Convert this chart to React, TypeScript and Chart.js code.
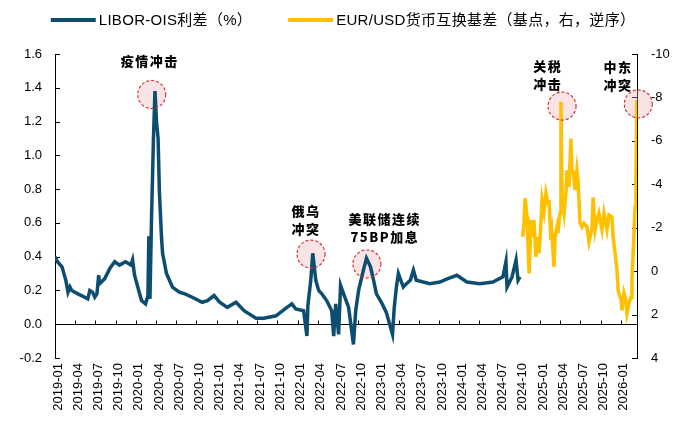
import React, { useEffect, useRef } from "react";
import { Chart, registerables } from "chart.js";

Chart.register(...registerables);

// ---------------- data ----------------
const xTickLabels = [
  "2019-01", "2019-04", "2019-07", "2019-10",
  "2020-01", "2020-04", "2020-07", "2020-10",
  "2021-01", "2021-04", "2021-07", "2021-10",
  "2022-01", "2022-04", "2022-07", "2022-10",
  "2023-01", "2023-04", "2023-07", "2023-10",
  "2024-01", "2024-04", "2024-07", "2024-10",
  "2025-01", "2025-04", "2025-07", "2025-10",
  "2026-01",
];
const xAxisEnd = "2026-03-13";
const leftTickValues = [-0.2, 0, 0.2, 0.4, 0.6, 0.8, 1.0, 1.2, 1.4, 1.6];
const rightTickValues = [-10, -8, -6, -4, -2, 0, 2, 4];

const liborLabel = "LIBOR-OIS利差（%）";
const liborDates = [
  "2019-01-01", "2019-01-12", "2019-02-02", "2019-02-18", "2019-02-27", "2019-03-08", "2019-03-16",
  "2019-04-13", "2019-05-14", "2019-05-28", "2019-06-06", "2019-06-18", "2019-06-28", "2019-07-08",
  "2019-07-16", "2019-07-20", "2019-08-13", "2019-09-05", "2019-09-27", "2019-10-19", "2019-11-15",
  "2019-12-10", "2019-12-17", "2019-12-26", "2020-01-27", "2020-02-14", "2020-02-24", "2020-02-28",
  "2020-03-04", "2020-03-11", "2020-03-20", "2020-03-27", "2020-04-03", "2020-04-10", "2020-04-16",
  "2020-04-25", "2020-04-30", "2020-05-18", "2020-06-14", "2020-07-15", "2020-08-10", "2020-09-12",
  "2020-10-27", "2020-11-20", "2020-12-20", "2021-01-15", "2021-02-17", "2021-03-28", "2021-05-03",
  "2021-06-26", "2021-08-01", "2021-09-25", "2021-11-14", "2021-12-06", "2021-12-24", "2022-01-29",
  "2022-02-12", "2022-02-16", "2022-02-28", "2022-03-09", "2022-03-23", "2022-04-05", "2022-04-19",
  "2022-05-11", "2022-06-03", "2022-06-12", "2022-06-21", "2022-07-04", "2022-07-13", "2022-07-27",
  "2022-08-19", "2022-09-10", "2022-09-20", "2022-10-03", "2022-10-25", "2022-11-08", "2022-11-26",
  "2022-12-10", "2022-12-23", "2023-01-15", "2023-02-06", "2023-03-04", "2023-03-12", "2023-03-22",
  "2023-03-31", "2023-04-22", "2023-05-06", "2023-05-24", "2023-06-07", "2023-06-20", "2023-08-21",
  "2023-10-05", "2023-11-10", "2023-12-21", "2024-02-05", "2024-04-03", "2024-06-01", "2024-07-16",
  "2024-07-30", "2024-08-04", "2024-08-27", "2024-09-14", "2024-09-23", "2024-10-02",
];
const liborValues = [
  0.40, 0.37, 0.34, 0.26, 0.19, 0.22, 0.20,
  0.18, 0.16, 0.15, 0.20, 0.19, 0.16, 0.18,
  0.29, 0.24, 0.27, 0.33, 0.37, 0.35, 0.37,
  0.35, 0.38, 0.29, 0.14, 0.12, 0.17, 0.52,
  0.15, 0.62, 1.10, 1.38, 1.20, 1.10, 0.78,
  0.52, 0.42, 0.30, 0.22, 0.19, 0.18, 0.16,
  0.13, 0.14, 0.17, 0.13, 0.10, 0.13, 0.08,
  0.035, 0.035, 0.05, 0.10, 0.12, 0.09, 0.08,
  -0.07, 0.11, 0.26, 0.42, 0.26, 0.20, 0.18,
  0.14, 0.08, -0.07, 0.12, -0.06, 0.23, 0.18,
  0.10, -0.12, 0.08, 0.20, 0.32, 0.39, 0.34,
  0.26, 0.18, 0.13, 0.07, -0.06, 0.10, 0.22,
  0.30, 0.22, 0.24, 0.26, 0.32, 0.26, 0.24,
  0.25, 0.27, 0.29, 0.25, 0.24, 0.25, 0.28,
  0.37, 0.22, 0.28, 0.38, 0.26, 0.28,
];

const basisLabel = "EUR/USD货币互换基差（基点，右，逆序）";
const basisDates = [
  "2024-10-14", "2024-10-20", "2024-10-25", "2024-11-03", "2024-11-07", "2024-11-12", "2024-11-21",
  "2024-11-25", "2024-12-04", "2024-12-13", "2024-12-18", "2024-12-27", "2025-01-05", "2025-01-10",
  "2025-01-19", "2025-01-28", "2025-02-06", "2025-02-10", "2025-02-18", "2025-02-22", "2025-03-03",
  "2025-03-08", "2025-03-17", "2025-03-21", "2025-03-31", "2025-04-04", "2025-04-09", "2025-04-18",
  "2025-04-27", "2025-05-01", "2025-05-10", "2025-05-19", "2025-05-24", "2025-05-28", "2025-06-07",
  "2025-06-15", "2025-06-20", "2025-06-29", "2025-07-08", "2025-07-17", "2025-07-31", "2025-08-09",
  "2025-08-23", "2025-08-28", "2025-09-06", "2025-09-14", "2025-09-23", "2025-10-07", "2025-10-16",
  "2025-10-30", "2025-11-08", "2025-11-21", "2025-11-26", "2025-12-05", "2025-12-14", "2025-12-19",
  "2026-01-02", "2026-01-06", "2026-01-15", "2026-01-24", "2026-01-29", "2026-02-07", "2026-02-15",
  "2026-02-19", "2026-02-28", "2026-03-04", "2026-03-08", "2026-03-12",
];
const basisValues = [
  -1.58, -2.2, -3.36, -2.5, -1.3, 0.1, -2.35,
  -1.57, -2.35, -0.65, -1.57, -0.82, -2.2, -3.27,
  -2.72, -3.6, -3.13, -3.27, -1.43, -1.75, -0.2,
  -1.57, -2.03, -1.75, -2.67, -7.8, -3.4, -2.67,
  -3.73, -4.65, -3.87, -6.1, -4.5, -4.65, -3.73,
  -4.65, -4.2, -2.2, -2.03, -2.2, -2.03, -1.34,
  -1.98, -3.4, -1.9, -2.35, -2.67, -1.9, -2.67,
  -1.9, -2.58, -2.49, -1.57, -0.82, -0.05, 0.88,
  1.34, 1.8, 1.0, 1.34, 1.94, 1.47, 1.2,
  0.41, -1.9, -2.95, -4.2, -7.88,
];

const annotations = [
  { lines: ["疫情冲击"], textDate: "2020-02-28", textValue: 1.56, circleDate: "2020-03-12", circleValue: 1.36, axis: "y" },
  { lines: ["俄乌", "冲突"], textDate: "2022-02-04", textValue: 0.67, circleDate: "2022-03-01", circleValue: 0.415, axis: "y" },
  { lines: ["美联储连续", "75BP加息"], textDate: "2023-01-26", textValue: 0.62, circleDate: "2022-11-10", circleValue: 0.357, axis: "y" },
  { lines: ["关税", "冲击"], textDate: "2025-02-01", textValue: -9.45, circleDate: "2025-04-09", circleValue: -7.6, axis: "y1" },
  { lines: ["中东", "冲突"], textDate: "2025-12-14", textValue: -9.4, circleDate: "2026-03-19", circleValue: -7.7, axis: "y1" },
];

// ---------------- helpers ----------------
function toMonth(s: string): number {
  const parts = s.split("-").map(Number);
  const y = parts[0];
  const m = parts[1];
  const d = parts[2] || 1;
  const days = new Date(y, m, 0).getDate();
  return (y - 2019) * 12 + (m - 1) + (d - 1) / days;
}

const BLUE = "#0D4D70";
const GOLD = "#FFC000";
const SANS = '"Liberation Sans", Arial, "Noto Sans CJK SC", sans-serif';

const decorPlugin = {
  id: "decor",
  beforeDatasetsDraw(chart: any) {
    const { ctx, chartArea: ca, scales } = chart;
    const x = scales.x;
    const y = scales.y;
    const y1 = scales.y1;
    ctx.save();
    ctx.strokeStyle = "#000";
    ctx.lineWidth = 1;
    const y0 = Math.round(y.getPixelForValue(0)) + 0.5;
    ctx.beginPath();
    ctx.moveTo(ca.left, y0);
    ctx.lineTo(ca.right, y0);
    x.ticks.forEach((t: any) => {
      const px = Math.round(x.getPixelForValue(t.value)) + 0.5;
      ctx.moveTo(px, y0);
      ctx.lineTo(px, y0 - 4);
    });
    y.ticks.forEach((t: any) => {
      const py = Math.round(y.getPixelForValue(t.value)) + 0.5;
      ctx.moveTo(ca.left, py);
      ctx.lineTo(ca.left + 5, py);
    });
    y1.ticks.forEach((t: any) => {
      const py = Math.round(y1.getPixelForValue(t.value)) + 0.5;
      ctx.moveTo(ca.right, py);
      ctx.lineTo(ca.right - 5, py);
    });
    ctx.stroke();

    annotations.forEach((a) => {
      const sc = scales[a.axis];
      const cx = x.getPixelForValue(toMonth(a.circleDate));
      const cy = sc.getPixelForValue(a.circleValue);
      ctx.beginPath();
      ctx.arc(cx, cy, 14, 0, Math.PI * 2);
      ctx.fillStyle = "rgba(232, 170, 170, 0.32)";
      ctx.fill();
    });
    ctx.restore();
  },
  afterDatasetsDraw(chart: any) {
    const { ctx, scales } = chart;
    const x = scales.x;
    ctx.save();
    annotations.forEach((a) => {
      const sc = scales[a.axis];
      const cx = x.getPixelForValue(toMonth(a.circleDate));
      const cy = sc.getPixelForValue(a.circleValue);
      ctx.beginPath();
      ctx.arc(cx, cy, 14, 0, Math.PI * 2);
      ctx.setLineDash([3, 2]);
      ctx.strokeStyle = "#D42A2A";
      ctx.lineWidth = 1.1;
      ctx.stroke();
    });
    ctx.setLineDash([]);
    ctx.fillStyle = "#000";
    ctx.textAlign = "center";
    ctx.textBaseline = "middle";
    ctx.font = '900 13px "Noto Sans CJK SC", sans-serif';
    try { (ctx as any).letterSpacing = "1.5px"; } catch (e) {}
    annotations.forEach((a) => {
      const sc = scales[a.axis];
      const tx = x.getPixelForValue(toMonth(a.textDate));
      const ty = sc.getPixelForValue(a.textValue);
      a.lines.forEach((line, i) => {
        ctx.fillText(line, tx + 1, ty + i * 18);
      });
    });
    try { (ctx as any).letterSpacing = "0.3px"; } catch (e) {}

    const items = chart.data.datasets.map((d: any) => ({ text: d.label, color: d.borderColor }));
    ctx.font = '15px ' + SANS;
    ctx.textAlign = "left";
    const lineLen = 45;
    const gapText = 3;
    const gapItem = 36;
    const widths = items.map((it: any) => lineLen + gapText + ctx.measureText(it.text).width);
    const total = widths.reduce((s: number, w: number) => s + w, 0) + gapItem * (items.length - 1);
    let lx = (chart.width - total) / 2 + 6;
    const ly = 20;
    items.forEach((it: any, i: number) => {
      ctx.fillStyle = it.color;
      ctx.fillRect(lx, ly - 2, lineLen, 4);
      ctx.fillStyle = "#000";
      ctx.fillText(it.text, lx + lineLen + gapText, ly + 1);
      lx += widths[i] + gapItem;
    });
    ctx.restore();
  },
};

export default function App() {
  const ref = useRef<HTMLCanvasElement | null>(null);

  useEffect(() => {
    if (!ref.current) return;
    const liborData = liborDates.map((d, i) => ({ x: toMonth(d), y: liborValues[i] }));
    const basisData = basisDates.map((d, i) => ({ x: toMonth(d), y: basisValues[i] }));
    const xTickValues = xTickLabels.map((l) => toMonth(l + "-01"));

    const chart = new Chart(ref.current, {
      type: "line",
      data: {
        datasets: [
          {
            label: liborLabel,
            data: liborData,
            borderColor: BLUE,
            backgroundColor: BLUE,
            borderWidth: 3.5,
            pointRadius: 0,
            tension: 0,
            yAxisID: "y",
          },
          {
            label: basisLabel,
            data: basisData,
            borderColor: GOLD,
            backgroundColor: GOLD,
            borderWidth: 3.5,
            pointRadius: 0,
            tension: 0,
            yAxisID: "y1",
          },
        ],
      },
      options: {
        animation: false,
        responsive: true,
        maintainAspectRatio: false,
        layout: { padding: { top: 54, left: 0, right: 0, bottom: 0 } },
        plugins: {
          legend: { display: false },
          tooltip: { enabled: false },
        },
        scales: {
          x: {
            type: "linear",
            min: 0,
            max: toMonth(xAxisEnd),
            afterBuildTicks: (s: any) => {
              s.ticks = xTickValues.map((v) => ({ value: v }));
            },
            afterFit: (s: any) => {
              s.height = 67;
            },
            grid: { display: false, drawTicks: false, tickLength: 0 },
            border: { display: false },
            ticks: {
              autoSkip: false,
              minRotation: 90,
              maxRotation: 90,
              padding: 5,
              labelOffset: 3,
              color: "#000",
              font: { size: 13, family: SANS },
              callback: (v: any) => {
                const i = xTickValues.findIndex((t) => Math.abs(t - v) < 1e-6);
                return i >= 0 ? xTickLabels[i] : "";
              },
            },
          },
          y: {
            position: "left",
            min: -0.2,
            max: 1.6,
            afterBuildTicks: (s: any) => {
              s.ticks = leftTickValues.map((v) => ({ value: v }));
            },
            afterFit: (s: any) => {
              s.width = 55;
            },
            grid: { display: false, drawTicks: false, tickLength: 0 },
            border: { display: true, color: "#000", width: 1 },
            ticks: {
              padding: 13,
              color: "#000",
              font: { size: 13, family: SANS },
              callback: (v: any) => Number(v).toFixed(1),
            },
          },
          y1: {
            position: "right",
            reverse: true,
            min: -10,
            max: 4,
            afterBuildTicks: (s: any) => {
              s.ticks = rightTickValues.map((v) => ({ value: v }));
            },
            afterFit: (s: any) => {
              s.width = 37;
            },
            grid: { display: false, drawTicks: false, tickLength: 0 },
            border: { display: true, color: "#000", width: 1 },
            ticks: {
              padding: 14,
              color: "#000",
              font: { size: 13, family: SANS },
              callback: (v: any) => String(v),
            },
          },
        },
      },
      plugins: [decorPlugin],
    } as any);

    return () => chart.destroy();
  }, []);

  return (
    <div style={{ position: "fixed", left: 0, top: 0, width: 674, height: 425, background: "#fff" }}>
      <canvas ref={ref} />
    </div>
  );
}
